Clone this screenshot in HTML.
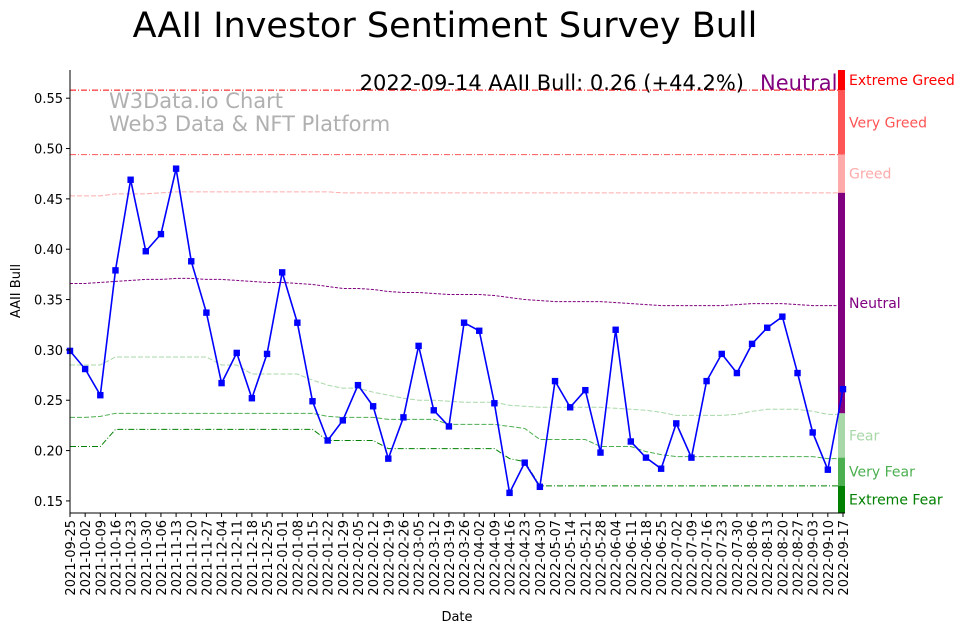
<!DOCTYPE html>
<html><head><meta charset="utf-8"><style>
body{margin:0;background:#fff;}
svg text{font-family:"DejaVu Sans","Liberation Sans",sans-serif;}
</style></head><body>
<svg id="c" width="964" height="633" xmlns="http://www.w3.org/2000/svg">
<text x="445" y="37" font-size="35" text-anchor="middle">AAII Investor Sentiment Survey Bull</text>
<text x="109" y="108" font-size="21" fill="#b0b0b0">W3Data.io Chart</text>
<text x="109" y="131" font-size="21" fill="#b0b0b0">Web3 Data &amp; NFT Platform</text>
<text x="744" y="90" font-size="21" text-anchor="end">2022-09-14 AAII Bull: 0.26 (+44.2%)</text>
<text x="760" y="90" font-size="21" fill="#800080">Neutral</text>
<g id="g"></g>
<text x="20" y="291" font-size="13" text-anchor="middle" transform="rotate(-90 20 291)">AAII Bull</text>
<text x="457" y="621" font-size="13" text-anchor="middle">Date</text>
</svg>
<script>
const dates=["2021-09-25","2021-10-02","2021-10-09","2021-10-16","2021-10-23","2021-10-30","2021-11-06","2021-11-13","2021-11-20","2021-11-27","2021-12-04","2021-12-11","2021-12-18","2021-12-25","2022-01-01","2022-01-08","2022-01-15","2022-01-22","2022-01-29","2022-02-05","2022-02-12","2022-02-19","2022-02-26","2022-03-05","2022-03-12","2022-03-19","2022-03-26","2022-04-02","2022-04-09","2022-04-16","2022-04-23","2022-04-30","2022-05-07","2022-05-14","2022-05-21","2022-05-28","2022-06-04","2022-06-11","2022-06-18","2022-06-25","2022-07-02","2022-07-09","2022-07-16","2022-07-23","2022-07-30","2022-08-06","2022-08-13","2022-08-20","2022-08-27","2022-09-03","2022-09-10","2022-09-17"];
const bull=[0.299,0.281,0.255,0.379,0.469,0.398,0.415,0.480,0.388,0.337,0.267,0.297,0.252,0.296,0.377,0.327,0.249,0.210,0.230,0.265,0.244,0.192,0.233,0.304,0.240,0.224,0.327,0.319,0.247,0.158,0.188,0.164,0.269,0.243,0.260,0.198,0.320,0.209,0.193,0.182,0.227,0.193,0.269,0.296,0.277,0.306,0.322,0.333,0.277,0.218,0.181,0.261];
const extremeGreed=Array(52).fill(0.558);
const veryGreed=Array(52).fill(0.494);
const greed=[0.453,0.453,0.453,0.455,0.455,0.455,0.456,0.457,0.457,0.457,0.457,0.457,0.457,0.457,0.457,0.457,0.457,0.457,0.456,0.456,0.456,0.456,0.456,0.456,0.456,0.456,0.456,0.456,0.456,0.456,0.456,0.456,0.456,0.456,0.456,0.456,0.456,0.456,0.456,0.456,0.456,0.456,0.456,0.456,0.456,0.456,0.456,0.456,0.456,0.456,0.456,0.456];
const neutral=[0.366,0.366,0.367,0.368,0.369,0.370,0.370,0.371,0.371,0.370,0.370,0.369,0.368,0.367,0.367,0.366,0.365,0.363,0.361,0.361,0.360,0.358,0.357,0.357,0.356,0.355,0.355,0.355,0.354,0.352,0.350,0.349,0.348,0.348,0.348,0.348,0.347,0.346,0.345,0.344,0.344,0.344,0.344,0.344,0.345,0.346,0.346,0.346,0.345,0.344,0.344,0.344];
const fear=[0.285,0.285,0.285,0.293,0.293,0.293,0.293,0.293,0.293,0.293,0.285,0.285,0.276,0.276,0.276,0.276,0.270,0.265,0.262,0.262,0.258,0.255,0.252,0.250,0.250,0.249,0.248,0.248,0.248,0.245,0.244,0.243,0.243,0.243,0.243,0.243,0.242,0.241,0.240,0.238,0.235,0.235,0.235,0.235,0.236,0.239,0.241,0.241,0.241,0.239,0.236,0.236];
const veryFear=[0.233,0.233,0.234,0.237,0.237,0.237,0.237,0.237,0.237,0.237,0.237,0.237,0.237,0.237,0.237,0.237,0.237,0.234,0.233,0.233,0.233,0.231,0.231,0.231,0.231,0.226,0.226,0.226,0.226,0.224,0.222,0.211,0.211,0.211,0.211,0.204,0.204,0.204,0.199,0.196,0.194,0.194,0.194,0.194,0.194,0.194,0.194,0.194,0.194,0.194,0.192,0.192];
const extremeFear=[0.204,0.204,0.204,0.221,0.221,0.221,0.221,0.221,0.221,0.221,0.221,0.221,0.221,0.221,0.221,0.221,0.221,0.210,0.210,0.210,0.210,0.202,0.202,0.202,0.202,0.202,0.202,0.202,0.202,0.192,0.189,0.165,0.165,0.165,0.165,0.165,0.165,0.165,0.165,0.165,0.165,0.165,0.165,0.165,0.165,0.165,0.165,0.165,0.165,0.165,0.165,0.165];
const yTicks=[0.15,0.20,0.25,0.30,0.35,0.40,0.45,0.50,0.55];
const zoneNames=["Extreme Greed","Very Greed","Greed","Neutral","Fear","Very Fear","Extreme Fear"];
const zoneColors=["#ff0000","#ff5555","#ffaaaa","#800080","#a8d8a8","#4caf50","#008000"];
const zoneTops=[0.578,0.558,0.494,0.456,0.237,0.193,0.165];
const zoneBottoms=[0.558,0.494,0.456,0.237,0.193,0.165,0.138];

const L=70,R=843,T=70,B=513,ymin=0.138,ymax=0.578;
const xs=i=>L+(R-L)*i/(dates.length-1);
const ys=v=>B-(v-ymin)/(ymax-ymin)*(B-T);
const NS="http://www.w3.org/2000/svg",g=document.getElementById('g');
function mk(t,a){const e=document.createElementNS(NS,t);for(const k in a)e.setAttribute(k,a[k]);g.appendChild(e);return e;}
function line(arr,col,dash,name){const e=mk('polyline',{points:arr.map((v,i)=>xs(i)+','+ys(v)).join(' '),fill:'none',stroke:col,'stroke-width':1,'stroke-dasharray':dash});

}
line(extremeGreed,'#ff0000','6,2,1,2','extreme-greed-line');
line(veryGreed,'#ff5555','6,2,1,2','very-greed-line');
line(greed,'#ffaaaa','5,2','greed-line');
line(neutral,'#800080','3,1.5','neutral-line');
line(fear,'#a8d8a8','5,2','fear-line');
line(veryFear,'#4caf50','5,2','very-fear-line');
line(extremeFear,'#008000','6,2,1,2','extreme-fear-line');
zoneNames.forEach((n,i)=>{const y1=ys(zoneTops[i]),y2=ys(zoneBottoms[i]);
const r=mk('rect',{x:838,y:y1,width:7,height:y2-y1,fill:zoneColors[i]});


const t=mk('text',{x:849,y:(y1+y2)/2+5,'font-size':14,fill:zoneColors[i]});t.textContent=n;

});
const bl=mk('polyline',{points:bull.map((v,i)=>xs(i)+','+ys(v)).join(' '),fill:'none',stroke:'#0000ff','stroke-width':1.6});


bull.forEach((v,i)=>{const m=mk('rect',{x:xs(i)-3.2,y:ys(v)-3.2,width:6.4,height:6.4,fill:'#0000ff'});

});
mk('line',{x1:L,y1:T,x2:L,y2:B,stroke:'#000','stroke-width':1});
mk('line',{x1:L,y1:B,x2:845,y2:B,stroke:'#000','stroke-width':1});
yTicks.forEach(v=>{const y=ys(v);mk('line',{x1:L-4,y1:y,x2:L,y2:y,stroke:'#000'});
const t=mk('text',{x:L-7,y:y+5,'font-size':13,'text-anchor':'end'});t.textContent=v.toFixed(2);

});
dates.forEach((d,i)=>{const x=xs(i);mk('line',{x1:x,y1:B,x2:x,y2:B+4,stroke:'#000'});
const t=mk('text',{x:x+5,y:B+7,'font-size':13,'text-anchor':'end',transform:`rotate(-90 ${x+5} ${B+7})`});t.textContent=d;

});
</script>
</body></html>
